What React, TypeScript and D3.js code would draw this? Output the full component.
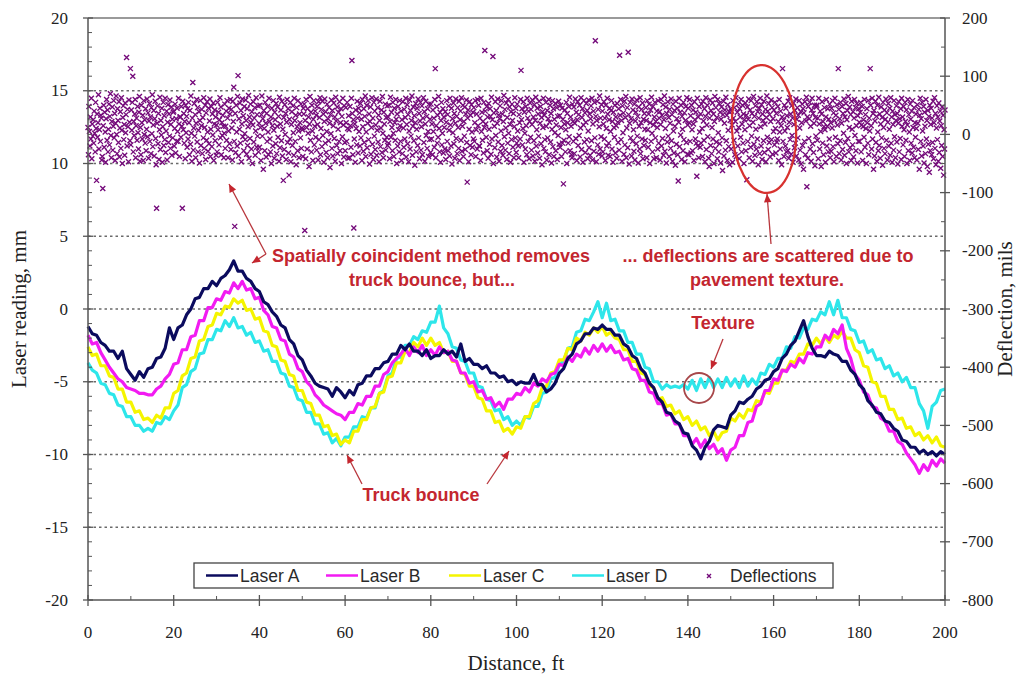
import React from "react";
import * as d3 from "d3";

// Laser readings (mm), sampled every 1 ft from 0 to 200 ft
const laserA = [
  -1.2,-1.7,-1.8,-2.3,-2.5,-2.9,-2.9,-3.4,-2.9,-4.1,
  -4.5,-4.9,-4.3,-4.7,-4.1,-4.0,-3.4,-3.3,-2.7,-1.3,
  -2.1,-1.3,-1.1,-0.4,0.0,0.7,0.8,1.4,1.4,1.9,
  1.6,2.1,2.3,2.7,3.3,2.6,2.6,2.1,1.9,1.4,
  1.2,0.5,0.3,-0.2,-0.5,-1.1,-1.3,-2.1,-2.4,-3.2,
  -3.5,-4.2,-4.6,-5.1,-5.3,-5.4,-5.5,-6.0,-5.4,-5.7,
  -6.1,-5.6,-5.9,-5.2,-5.1,-4.6,-4.6,-4.1,-4.1,-3.7,
  -3.6,-3.1,-3.1,-2.5,-2.8,-2.4,-2.9,-2.9,-3.2,-2.8,
  -3.4,-3.2,-3.2,-2.8,-3.1,-2.9,-3.3,-2.4,-3.6,-3.4,
  -3.8,-3.8,-4.1,-3.9,-4.4,-4.4,-4.7,-4.6,-5.0,-4.9,
  -5.2,-5.0,-5.1,-5.1,-4.5,-5.2,-5.2,-5.7,-5.5,-5.1,
  -4.4,-4.1,-3.4,-3.1,-2.4,-2.2,-1.7,-1.7,-1.3,-1.4,
  -1.1,-1.4,-1.4,-1.8,-1.8,-2.4,-2.6,-3.2,-3.4,-4.1,
  -4.4,-5.1,-5.4,-6.1,-6.4,-7.1,-7.2,-7.7,-7.9,-8.5,
  -8.6,-9.4,-9.7,-10.3,-9.5,-9.1,-8.3,-8.0,-8.1,-8.2,
  -7.3,-7.0,-6.4,-6.5,-6.2,-6.0,-5.5,-5.3,-4.9,-4.8,
  -4.3,-4.1,-3.4,-3.1,-2.5,-2.2,-1.5,-0.8,-1.9,-2.7,
  -3.2,-3.2,-3.3,-2.9,-3.1,-3.2,-3.6,-3.6,-4.2,-4.5,
  -5.2,-5.5,-6.3,-6.6,-7.1,-7.2,-7.7,-7.8,-8.2,-8.4,
  -9.0,-9.1,-9.5,-9.5,-9.9,-9.7,-10.0,-9.8,-10.1,-9.8,
  -10.0,
];

const laserB = [
  -1.8,-2.4,-2.3,-3.0,-3.5,-4.0,-4.4,-4.8,-5.0,-5.4,
  -5.5,-5.6,-5.8,-5.8,-5.9,-5.9,-5.5,-5.3,-4.8,-4.5,
  -3.8,-3.7,-2.8,-2.8,-1.9,-1.8,-0.8,-0.8,0.1,0.1,
  0.7,0.6,1.2,1.1,1.8,1.4,1.9,1.3,1.4,0.7,
  0.8,-0.1,-0.4,-1.2,-1.3,-2.1,-2.2,-3.1,-3.3,-4.1,
  -4.3,-5.0,-5.3,-5.9,-6.2,-6.6,-6.8,-7.0,-7.2,-7.3,
  -7.6,-7.1,-7.1,-6.5,-6.6,-6.0,-6.0,-5.3,-5.3,-4.5,
  -4.3,-3.7,-3.4,-3.1,-2.7,-3.2,-2.6,-3.0,-2.5,-3.2,
  -2.8,-3.2,-2.6,-3.0,-2.9,-3.5,-3.6,-4.4,-4.4,-5.1,
  -5.0,-5.7,-5.6,-6.2,-6.1,-6.7,-6.4,-6.9,-6.2,-6.2,
  -5.8,-5.9,-5.4,-5.7,-5.1,-5.3,-4.8,-5.0,-4.5,-4.4,
  -3.8,-3.9,-3.3,-3.6,-3.1,-3.3,-2.7,-3.1,-2.5,-2.9,
  -2.4,-2.9,-2.5,-3.0,-2.9,-3.5,-3.4,-4.1,-4.2,-4.9,
  -4.9,-5.7,-5.8,-6.5,-6.5,-7.3,-7.2,-7.9,-7.9,-8.7,
  -8.7,-9.3,-8.9,-9.5,-9.0,-9.6,-9.3,-9.9,-9.6,-10.4,
  -9.7,-9.5,-8.7,-8.7,-7.8,-7.7,-6.7,-6.5,-5.6,-5.6,
  -4.8,-4.9,-4.2,-4.3,-3.8,-4.0,-3.4,-3.7,-3.0,-3.1,
  -2.6,-2.6,-1.8,-2.1,-1.4,-1.7,-1.1,-2.7,-3.4,-4.5,
  -4.9,-5.7,-5.9,-6.7,-6.8,-7.5,-7.7,-8.4,-8.4,-9.1,
  -9.3,-9.9,-10.3,-10.7,-11.3,-10.7,-11.1,-10.4,-10.8,-10.3,
  -10.6,
];

const laserC = [
  -2.6,-3.2,-3.1,-3.9,-3.9,-4.6,-4.7,-5.5,-5.5,-6.4,
  -6.4,-7.1,-7.0,-7.6,-7.5,-7.8,-7.3,-7.5,-6.8,-6.8,
  -5.8,-5.6,-4.6,-4.4,-3.4,-3.3,-2.2,-2.1,-1.2,-1.1,
  -0.3,-0.4,0.2,0.1,0.7,0.4,0.6,-0.1,0.0,-0.7,
  -0.6,-1.5,-1.6,-2.5,-2.6,-3.5,-3.6,-4.5,-4.6,-5.6,
  -5.6,-6.4,-6.5,-7.3,-7.3,-8.1,-8.0,-8.7,-8.6,-9.3,
  -9.0,-9.2,-8.4,-8.4,-7.6,-7.6,-6.8,-6.7,-5.8,-5.7,
  -4.7,-4.6,-3.7,-3.7,-2.9,-3.0,-2.3,-2.6,-2.0,-2.5,
  -2.0,-2.5,-2.3,-3.0,-2.9,-3.6,-3.6,-4.4,-4.5,-5.3,
  -5.3,-6.1,-6.2,-7.0,-7.0,-7.8,-7.7,-8.4,-8.2,-8.6,
  -8.1,-8.2,-7.4,-7.4,-6.5,-6.3,-5.4,-5.3,-4.4,-4.3,
  -3.5,-3.5,-2.7,-2.8,-2.0,-2.2,-1.6,-1.8,-1.3,-1.6,
  -1.2,-1.8,-1.6,-2.0,-2.1,-2.8,-2.8,-3.6,-3.6,-4.4,
  -4.5,-5.3,-5.4,-6.2,-6.1,-6.7,-6.6,-7.2,-7.0,-7.6,
  -7.4,-8.0,-7.7,-8.3,-8.1,-8.7,-8.4,-9.0,-8.5,-8.4,
  -7.5,-7.7,-7.2,-7.5,-6.9,-7.0,-6.3,-6.4,-5.7,-5.8,
  -5.1,-5.1,-4.2,-4.2,-3.6,-3.7,-3.1,-3.1,-2.4,-2.5,
  -2.0,-2.4,-1.9,-2.3,-1.8,-2.0,-1.5,-2.0,-2.0,-2.8,
  -3.0,-3.9,-4.0,-5.0,-5.1,-6.0,-6.0,-6.9,-6.9,-7.6,
  -7.5,-8.2,-8.1,-8.7,-8.5,-9.0,-8.7,-9.2,-8.8,-9.4,
  -9.5,
];

const laserD = [
  -3.7,-4.2,-4.4,-5.1,-5.2,-5.8,-5.9,-6.6,-6.7,-7.4,
  -7.4,-8.0,-8.0,-8.4,-8.2,-8.4,-7.8,-7.9,-7.4,-7.6,
  -7.0,-6.6,-5.4,-5.2,-4.3,-4.1,-3.1,-3.0,-2.1,-2.1,
  -1.4,-1.5,-0.8,-1.2,-0.6,-1.3,-1.2,-1.8,-1.6,-2.3,
  -2.2,-2.9,-2.8,-3.6,-3.6,-4.4,-4.5,-5.3,-5.4,-6.2,
  -6.3,-7.1,-7.1,-7.9,-7.9,-8.6,-8.5,-9.2,-8.9,-9.4,
  -8.8,-8.8,-8.1,-8.1,-7.4,-7.5,-6.8,-6.8,-5.8,-5.6,
  -4.6,-4.4,-3.4,-3.3,-2.5,-2.5,-1.9,-2.1,-1.5,-1.6,
  -0.9,-0.9,0.2,-1.3,-1.7,-2.6,-2.7,-3.5,-3.6,-4.4,
  -4.4,-5.3,-5.4,-6.2,-6.3,-7.0,-6.9,-7.6,-7.4,-8.0,
  -7.7,-8.0,-7.4,-7.5,-6.7,-6.7,-5.8,-5.7,-4.8,-4.7,
  -3.8,-3.6,-2.7,-2.6,-1.6,-1.5,-0.7,-0.8,-0.2,0.5,
  -0.6,0.4,-0.8,-0.7,-1.5,-1.5,-2.3,-2.3,-3.1,-3.1,
  -4.0,-4.1,-5.0,-5.0,-5.5,-5.2,-5.4,-5.3,-5.4,-5.2,
  -5.5,-4.9,-5.6,-4.8,-5.4,-4.7,-5.4,-4.8,-5.4,-4.7,
  -5.3,-4.8,-5.4,-4.6,-5.3,-4.8,-5.2,-4.4,-4.5,-3.8,
  -4.0,-3.4,-3.4,-2.6,-2.7,-1.9,-2.0,-1.3,-1.4,-0.7,
  -0.8,-0.2,-0.4,0.5,-0.4,0.6,-0.6,-0.6,-1.4,-1.5,
  -2.3,-2.2,-3.0,-2.8,-3.5,-3.4,-4.1,-3.9,-4.6,-4.4,
  -5.0,-4.7,-5.4,-5.4,-6.5,-7.0,-8.2,-6.7,-6.4,-5.6,
  -5.5,
];

// Deflections (mils), evenly spaced over 0–200 ft; each block of three rows covers 10 ft
const deflections = [
  12,-35,48,5,-20,30,-8,62,-42,18,-3,25,-15,40,2,-30,55,10,-79,35,-5,20,68,-25,8,45,-12,33,28,-44,
  -38,-93,15,50,-22,38,4,-48,27,60,-10,42,-30,9,52,-18,31,70,-2,-40,22,47,-27,14,58,-6,36,-45,19,66,
  0,-33,44,24,-14,56,-39,11,39,-24,63,7,-50,29,49,-9,17,-36,54,3,34,132,-20,43,13,-47,59,21,-11,113,

  -18,42,7,55,100,-30,22,-2,35,60,-40,15,28,-10,48,3,-25,38,65,-46,12,-35,50,20,-8,33,-45,58,0,25,
  -15,44,-28,9,61,-4,37,-41,23,53,-12,30,-33,46,1,68,-21,16,41,-37,27,57,-7,-52,-127,19,49,-16,36,-43,
  8,64,-26,24,-1,45,-48,13,55,-19,32,-9,62,-31,6,40,-44,21,51,-14,35,-3,59,-24,17,47,-36,26,-6,38,

  40,-20,10,52,-32,27,-12,45,5,-12,62,18,-38,30,30,-5,48,14,-127,57,8,36,-15,22,-42,50,3,31,-22,44,
  -8,55,20,-35,41,-17,66,2,-46,28,89,-27,11,53,-3,34,-40,19,60,-13,46,-30,7,39,-49,24,58,-19,15,43,
  -33,29,-6,63,-24,12,50,-43,37,-10,56,4,-29,45,-16,23,61,-38,9,48,-21,35,-1,54,-45,18,42,-11,30,-36,

  16,-30,55,8,38,-18,25,63,-6,47,-35,20,-2,33,14,-40,2,52,-24,14,40,-10,58,28,-40,6,45,-16,35,60,
  -26,43,11,-44,57,22,81,-12,-158,36,-31,50,4,-20,65,101,-37,27,9,54,-15,41,-47,18,61,-4,32,-28,48,1,
  -9,59,24,-34,44,-19,13,67,-41,30,-7,52,21,-25,39,-50,16,56,-13,28,46,-36,6,63,-22,34,-3,49,-30,19,

  -22,50,12,-45,34,66,-3,27,-60,41,10,-28,55,19,-39,36,-12,48,4,-35,62,22,-8,-30,30,-50,45,15,-20,58,
  7,-41,38,25,-16,53,-33,14,47,-5,31,-46,64,-23,18,42,-11,57,-37,9,-79,29,-26,51,0,36,-43,21,60,-14,
  44,-32,-70,26,-8,55,-47,17,39,-19,49,3,-36,62,24,-12,33,-52,46,13,-28,58,6,-40,35,20,-6,52,-24,11,

  8,-38,45,35,52,-165,24,-42,60,12,-25,44,2,30,-55,18,65,-10,38,-30,50,6,-45,26,58,-18,14,40,-5,33,
  -27,48,17,-44,56,-9,29,63,-35,10,43,-21,57,-2,35,-48,22,61,-15,39,-31,5,52,-40,27,-11,46,19,-57,34,
  1,59,-24,41,-37,15,54,-7,30,-46,64,23,-19,47,-33,9,38,-12,56,-28,20,44,-50,31,-4,62,16,-39,49,-14,

  -28,46,20,-12,55,10,-41,32,8,-40,48,15,-22,62,127,36,-35,25,-161,-8,18,-48,42,10,-18,57,28,-32,45,5,
  37,-20,53,-6,26,-45,60,13,-29,44,-14,31,66,-38,4,50,-23,19,58,-9,35,-51,22,47,-34,12,63,-17,28,-43,
  55,-3,40,-26,16,61,-36,7,46,-13,33,-47,24,57,-21,11,42,-31,65,2,-40,38,18,-10,52,-27,29,-5,49,-19,

  30,-15,50,-42,22,64,-5,38,12,-28,55,2,-38,45,20,-10,60,26,-50,35,-20,48,8,-30,58,15,-12,40,-45,25,
  -33,56,11,-22,43,-8,29,62,-39,17,51,-16,34,-47,6,59,-25,41,-3,24,66,-36,14,47,-11,32,-53,20,53,-30,
  9,45,-19,61,-6,36,-42,23,55,-27,13,49,-35,28,63,-14,39,-46,18,57,-2,31,-24,44,5,-38,52,-9,26,-31,

  52,-8,18,-35,42,5,28,-22,60,113,-40,15,48,-15,33,-5,65,10,-30,38,-48,24,55,-18,2,44,-32,30,12,-25,
  39,-43,21,58,-12,34,-28,49,7,-37,62,16,-20,45,-51,27,3,54,-16,36,-41,19,61,-7,31,-33,46,12,-24,57,
  -45,25,40,-10,63,-29,14,50,-38,22,-3,47,-26,35,59,-14,-82,28,42,-47,9,56,-19,33,-35,51,4,-22,38,-8,

  46,-12,20,58,-38,8,35,-25,60,15,50,-20,-20,28,-45,62,5,38,-10,22,-32,55,12,144,40,18,-5,48,-28,30,
  -41,53,9,-17,44,31,-34,64,-8,25,134,-50,37,14,-23,56,-2,41,-39,19,61,-13,33,-46,27,49,-29,6,58,-19,
  35,-36,22,67,-4,43,-27,11,54,-43,29,-15,60,2,-33,47,17,-48,39,-9,52,24,-22,36,-40,13,63,-6,45,-31,

  -15,52,6,-20,-40,34,20,-8,60,110,25,44,-18,10,56,-48,38,2,-25,48,15,-35,62,28,-12,40,-42,22,54,-5,
  43,-27,17,59,-37,30,-11,51,-46,24,64,-20,8,45,-32,35,-3,57,-41,19,48,-16,29,-52,39,12,62,-24,33,-9,
  -30,55,14,-44,41,-6,27,60,-35,21,50,-13,36,-49,9,58,-21,44,-38,26,3,53,-28,16,46,-43,31,-2,57,-17,

  32,-22,50,12,-38,45,-15,26,-85,-10,18,42,-30,8,55,-50,36,20,-15,48,-4,64,-28,30,14,-35,-40,52,22,-12,
  47,-33,19,61,-7,38,-45,25,56,-19,34,-2,50,-39,11,63,-26,29,44,-48,16,58,-13,37,-31,21,53,-9,41,-42,
  6,59,-23,35,-36,27,49,-11,62,-44,18,40,-29,55,-6,161,31,-47,24,57,-18,43,-34,13,66,-25,28,-4,51,-37,

  40,-30,18,56,-8,28,-45,50,10,-20,62,35,-36,-15,25,45,-38,5,41,58,-25,22,-48,38,12,-5,50,-32,30,15,
  -41,53,21,-14,44,-27,136,33,60,-9,24,-46,49,3,37,-34,57,-18,29,65,-40,11,46,-23,141,34,-51,19,55,-6,
  27,-37,61,-12,42,8,-29,52,-44,23,38,-16,59,-3,31,-49,47,14,-25,63,-33,20,43,-8,54,-42,26,-19,36,9,

  -10,46,24,-40,58,8,-22,35,52,-50,20,42,-12,64,2,-30,48,16,-42,30,55,-6,22,-40,40,12,-25,58,-15,28,
  39,-44,17,60,-20,33,-7,51,-36,25,66,-29,10,47,-49,36,-13,56,-3,29,-38,43,19,-24,61,-11,34,-46,52,6,
  -32,41,14,-53,57,-17,27,45,-35,-80,21,62,-21,38,-1,50,-43,31,9,-28,55,-9,37,-47,24,48,-14,63,-34,16,

  45,-35,20,60,-12,32,-32,50,8,-28,42,18,-45,56,25,-8,38,-15,-72,62,-20,30,-40,48,4,-22,35,-15,52,10,
  -38,57,23,-10,44,-47,31,63,-26,16,50,-4,37,-41,-55,28,59,-19,41,-33,12,54,-8,35,-50,22,65,-24,46,-13,
  29,-42,60,3,-30,53,-16,38,-49,26,47,-6,-62,34,57,-37,19,42,-27,64,-11,33,-45,51,7,-21,39,-52,24,44,

  -25,40,16,-48,58,28,-10,46,-35,22,63,-38,6,38,-20,52,12,-42,44,30,-5,60,-30,18,50,-15,35,-50,25,8,
  54,-28,33,-78,47,-12,26,61,-40,15,42,-22,58,-3,36,-46,21,65,-17,31,-36,49,9,-25,56,-8,39,-52,28,45,
  -33,62,13,-20,51,-43,35,24,-11,57,-31,18,43,-47,29,66,-5,40,-26,53,-14,34,-39,22,59,-9,46,-34,27,5,

  42,-18,55,10,-32,36,-13,-8,48,22,-45,60,4,-25,40,15,-52,30,113,-12,24,-38,50,6,-20,45,-30,32,12,-28,
  57,-41,21,63,-9,35,-34,49,-2,28,-48,54,17,-23,41,-15,61,-37,26,46,-6,33,-44,58,11,-27,39,-51,20,52,
  -19,44,-60,37,-12,56,-35,23,64,-90,30,-41,48,-7,27,55,-25,14,-46,42,62,-16,36,-31,19,50,-54,29,-3,47,

  50,-10,28,-42,62,18,-25,40,5,-55,35,56,-15,22,-35,13,46,8,-48,30,60,-20,14,44,-30,26,-8,52,-40,20,
  -29,45,11,58,-21,37,-47,24,62,-5,33,-38,51,16,-16,113,43,-33,27,-11,55,-44,19,48,-26,36,2,61,-36,30,
  -14,53,-50,25,41,-7,65,-30,12,47,-23,34,-45,57,9,-18,39,-39,28,60,-2,46,-28,15,53,-49,32,-12,44,21,

  -12,38,55,-30,16,48,-45,13,25,-5,60,-22,34,10,-50,44,20,-15,58,-35,28,6,113,50,15,-25,62,-8,36,-60,
  41,-37,23,57,-14,31,-46,50,4,-28,64,-19,35,-41,18,47,-6,29,-53,55,12,-24,42,-33,26,61,-10,37,-44,21,
  53,-20,9,45,-36,63,-15,30,-48,40,17,-27,58,-4,34,-40,24,49,-13,36,-51,19,56,-30,27,-7,44,-43,62,14,

  30,-18,48,8,-38,55,22,-10,42,-50,16,60,-28,34,4,-45,52,26,-15,40,-32,58,12,-22,46,-40,20,-5,35,10,
  -44,51,19,-26,43,-60,33,62,-12,27,-37,55,6,-20,48,-49,38,14,-33,60,-8,24,-55,41,-17,31,-65,50,-28,17,
  45,-35,28,-14,57,-42,20,63,-24,36,-52,11,49,-9,30,-46,54,-31,23,40,-58,15,-19,47,-38,33,-70,8,-25,42,
];

const xTicks = [0, 20, 40, 60, 80, 100, 120, 140, 160, 180, 200];
const leftTicks = [20, 15, 10, 5, 0, -5, -10, -15, -20];
const rightTicks = [200, 100, 0, -100, -200, -300, -400, -500, -600, -700, -800];
const gridValues = [15, 10, 5, 0, -5, -10, -15];

const series = [
  { name: "Laser A", values: laserA, color: "#0b0b5e" },
  { name: "Laser B", values: laserB, color: "#f21bf2" },
  { name: "Laser C", values: laserC, color: "#f5f500" },
  { name: "Laser D", values: laserD, color: "#2de6ea" },
];

const W = 1031;
const H = 683;
const L = 88;
const R = 945;
const T = 18;
const B = 600;

const x = d3.scaleLinear().domain([0, 200]).range([L, R]);
const yL = d3.scaleLinear().domain([-20, 20]).range([B, T]);
const yR = d3.scaleLinear().domain([-800, 200]).range([B, T]);

const axisColor = "#555";
const noteColor = "#c3262f";
const serif = "'Liberation Serif', 'Times New Roman', serif";
const sans = "'Liberation Sans', Arial, sans-serif";

function distanceOf(i: number, n: number) {
  return (i * 200) / (n - 1);
}

function Cross({ cx, cy, s = 2.5, color = "#740a7a", w = 1.35 }) {
  return (
    <path
      d={`M${cx - s},${cy - s}L${cx + s},${cy + s}M${cx - s},${cy + s}L${cx + s},${cy - s}`}
      stroke={color}
      strokeWidth={w}
      fill="none"
    />
  );
}

function Arrow({ x1, y1, x2, y2 }) {
  const ang = Math.atan2(y2 - y1, x2 - x1);
  const len = 9;
  const half = 0.42;
  const p1 = [x2 - len * Math.cos(ang - half), y2 - len * Math.sin(ang - half)];
  const p2 = [x2 - len * Math.cos(ang + half), y2 - len * Math.sin(ang + half)];
  return (
    <g>
      <line x1={x1} y1={y1} x2={x2} y2={y2} stroke="#b8353b" strokeWidth={1.3} />
      <path d={`M${x2},${y2}L${p1[0]},${p1[1]}L${p2[0]},${p2[1]}Z`} fill="#c4262e" />
    </g>
  );
}

export default function App() {
  const lineGen = (vals: number[]) =>
    d3
      .line<number>()
      .x((_, i) => x(distanceOf(i, vals.length)))
      .y((v) => yL(v))(vals) as string;

  const leftMinor = d3.range(-20, 21, 1).filter((v) => v % 5 !== 0);
  const rightMinor = d3.range(-750, 200, 100);
  const xMinor = d3.range(10, 200, 20);

  const legendItems = [
    { x: 206, ...series[0] },
    { x: 326, ...series[1] },
    { x: 449, ...series[2] },
    { x: 572, ...series[3] },
  ];

  return (
    <svg
      width={W}
      height={H}
      style={{ position: "absolute", left: 0, top: 0, background: "#fff" }}
    >
      {/* gridlines */}
      {gridValues.map((v) => (
        <line
          key={"g" + v}
          x1={L}
          x2={R}
          y1={yL(v)}
          y2={yL(v)}
          stroke="#6a6a6a"
          strokeWidth={1.3}
          strokeDasharray="2.5,3"
        />
      ))}

      {/* top frame */}
      <line x1={L} x2={R} y1={T} y2={T} stroke="#9a9a9a" strokeWidth={2} />

      {/* laser traces, Laser A drawn on top */}
      {[...series].reverse().map((s) => (
        <path
          key={s.name}
          d={lineGen(s.values)}
          fill="none"
          stroke={s.color}
          strokeWidth={3.2}
          strokeLinejoin="round"
        />
      ))}

      {/* deflection points */}
      {deflections.map((v, i) => (
        <Cross key={"d" + i} cx={x(distanceOf(i, deflections.length))} cy={yR(v)} />
      ))}

      {/* left axis */}
      <line x1={L} x2={L} y1={T} y2={B} stroke={axisColor} strokeWidth={1.5} />
      {leftTicks.map((v) => (
        <g key={"lt" + v}>
          <line x1={L - 5} x2={L + 5} y1={yL(v)} y2={yL(v)} stroke={axisColor} strokeWidth={1.3} />
          <text
            x={68}
            y={yL(v)}
            textAnchor="end"
            dominantBaseline="central"
            fontFamily={serif}
            fontSize={17}
            fill="#222"
          >
            {v}
          </text>
        </g>
      ))}
      {leftMinor.map((v) => (
        <line key={"lm" + v} x1={L} x2={L + 4} y1={yL(v)} y2={yL(v)} stroke={axisColor} strokeWidth={1} />
      ))}

      {/* right axis */}
      <line x1={R} x2={R} y1={T} y2={B} stroke={axisColor} strokeWidth={1.5} />
      {rightTicks.map((v) => (
        <g key={"rt" + v}>
          <line x1={R - 5} x2={R + 5} y1={yR(v)} y2={yR(v)} stroke={axisColor} strokeWidth={1.3} />
          <text
            x={962}
            y={yR(v)}
            textAnchor="start"
            dominantBaseline="central"
            fontFamily={serif}
            fontSize={17}
            fill="#222"
          >
            {v}
          </text>
        </g>
      ))}
      {rightMinor.map((v) => (
        <line key={"rm" + v} x1={R - 4} x2={R} y1={yR(v)} y2={yR(v)} stroke={axisColor} strokeWidth={1} />
      ))}

      {/* bottom axis */}
      <line x1={L} x2={R} y1={B} y2={B} stroke={axisColor} strokeWidth={1.5} />
      {xTicks.map((v) => (
        <g key={"xt" + v}>
          <line x1={x(v)} x2={x(v)} y1={B - 5} y2={B + 6} stroke={axisColor} strokeWidth={1.3} />
          <text
            x={x(v)}
            y={638}
            textAnchor="middle"
            fontFamily={serif}
            fontSize={17}
            fill="#222"
          >
            {v}
          </text>
        </g>
      ))}
      {xMinor.map((v) => (
        <line key={"xm" + v} x1={x(v)} x2={x(v)} y1={B - 4} y2={B} stroke={axisColor} strokeWidth={1} />
      ))}

      {/* axis titles */}
      <text x={516} y={670} textAnchor="middle" fontFamily={serif} fontSize={21} fill="#222">
        Distance, ft
      </text>
      <text
        transform={`translate(26,${(T + B) / 2}) rotate(-90)`}
        textAnchor="middle"
        fontFamily={serif}
        fontSize={21}
        fill="#222"
      >
        Laser reading, mm
      </text>
      <text
        transform={`translate(1012,${(T + B) / 2}) rotate(-90)`}
        textAnchor="middle"
        fontFamily={serif}
        fontSize={21}
        fill="#222"
      >
        Deflection, mils
      </text>

      {/* legend */}
      <rect x={194} y={563} width={639} height={25} fill="#fff" stroke="#444" strokeWidth={1.3} />
      {legendItems.map((it) => (
        <g key={"lg" + it.name}>
          <line x1={it.x} x2={it.x + 32} y1={575.5} y2={575.5} stroke={it.color} strokeWidth={2.5} />
          <text x={it.x + 34} y={582} fontFamily={sans} fontSize={17.5} fill="#2a2a2a">
            {it.name}
          </text>
        </g>
      ))}
      <Cross cx={709} cy={576} s={2} />
      <text x={730} y={582} fontFamily={sans} fontSize={17.5} fill="#2a2a2a">
        Deflections
      </text>

      {/* annotations */}
      <g fontFamily={sans} fontWeight="bold" fontSize={18} fill={noteColor}>
        <text x={431} y={262} textAnchor="middle">Spatially coincident method removes</text>
        <text x={432} y={286} textAnchor="middle">truck bounce, but...</text>
        <text x={768} y={262} textAnchor="middle">... deflections are scattered due to</text>
        <text x={767} y={286} textAnchor="middle">pavement texture.</text>
        <text x={723} y={329} textAnchor="middle">Texture</text>
        <text x={421} y={501} textAnchor="middle">Truck bounce</text>
      </g>
      <Arrow x1={266} y1={254} x2={229} y2={184} />
      <Arrow x1={266} y1={254} x2={252} y2={263} />
      <Arrow x1={771} y1={244} x2={767} y2={194} />
      <Arrow x1={723} y1={339} x2={711} y2={369} />
      <Arrow x1={362} y1={484} x2={347} y2={455} />
      <Arrow x1={487} y1={484} x2={509} y2={451} />

      <ellipse
        cx={764}
        cy={129}
        rx={32}
        ry={64}
        fill="none"
        stroke="#d8322f"
        strokeWidth={2.2}
        transform="rotate(-3 764 129)"
      />
      <circle cx={699} cy={388} r={15} fill="none" stroke="#a8474a" strokeWidth={1.8} />
    </svg>
  );
}
